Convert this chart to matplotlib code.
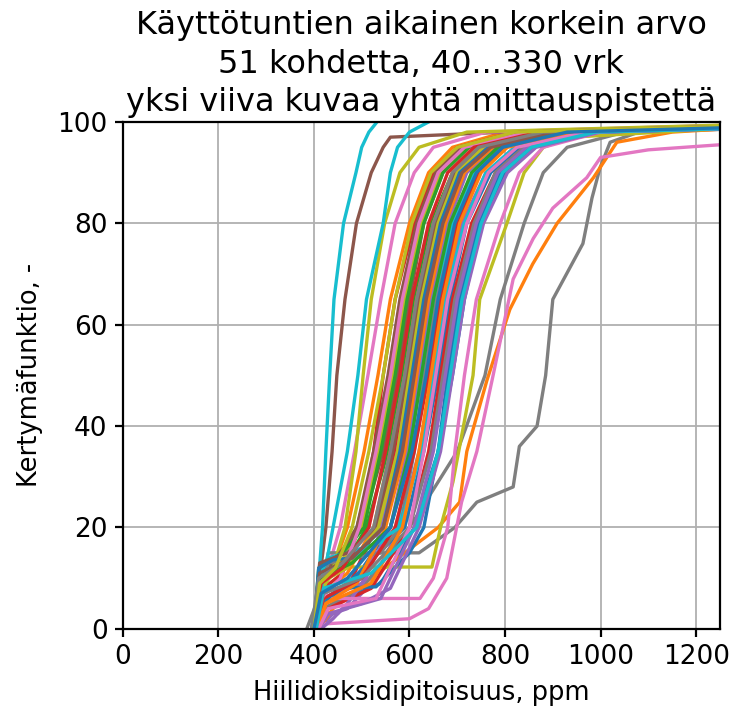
import numpy as np
import matplotlib
matplotlib.use("Agg")
import matplotlib.pyplot as plt

# each curve: (ppm, cumulative %) points
c00 = [(405, 0), (420, 6), (480, 9), (560, 20), (605, 35), (640, 50), (665, 65), (700, 80), (745, 90), (790, 95), (900, 98), (1700, 100)]
c01 = [(400, 0), (412, 7), (440, 12), (470, 20), (505, 35), (534, 50), (560, 65), (600, 80), (640, 90), (690, 95), (800, 98), (1600, 100)]
c02 = [(400, 0), (415, 10), (450, 14), (490, 20), (530, 35), (560, 50), (585, 65), (620, 80), (660, 90), (715, 95), (850, 98), (1700, 100)]
c03 = [(405, 0), (420, 8), (460, 11), (495, 20), (525, 35), (545, 50), (570, 65), (610, 80), (650, 90), (700, 95), (820, 98), (1500, 100)]
c04 = [(410, 0), (440, 3), (470, 4), (520, 9), (580, 20), (620, 35), (650, 50), (675, 65), (710, 80), (760, 90), (820, 95), (950, 98), (1800, 100)]
c05 = [(395, 0), (405, 5), (412, 10), (425, 20), (438, 35), (448, 50), (465, 65), (489, 80), (520, 90), (545, 95), (560, 97), (800, 98), (2500, 100)]
c06 = [(400, 0), (410, 8), (430, 12), (455, 20), (485, 35), (513, 50), (540, 65), (570, 80), (610, 90), (650, 95), (760, 98), (1500, 100)]
c07 = [(385, 0), (405, 5), (420, 10), (430, 15), (620, 15), (650, 17), (695, 20), (741, 25), (817, 28), (830, 36), (867, 40), (885, 50),
       (900, 65), (963, 76), (982, 85), (999, 91), (1020, 96), (1080, 98), (1700, 100)]
c08 = [(400, 0), (412, 8), (440, 12), (465, 20), (488, 35), (503, 50), (520, 65), (548, 80), (580, 90), (620, 95), (720, 98), (1500, 100)]
c09 = [(395, 0), (405, 5), (410, 10), (418, 20), (425, 35), (433, 50), (442, 65), (462, 80), (488, 90), (500, 95), (515, 98), (532, 100)]
c10 = [(410, 0), (425, 4), (440, 5), (540, 9), (610, 20), (660, 35), (690, 50), (715, 65), (750, 80), (800, 90), (860, 95), (1000, 98), (1800, 100)]
c11 = [(410, 0), (440, 4), (520, 10), (660, 20), (705, 25), (720, 35), (762, 49), (810, 63), (858, 72), (909, 80), (985, 89), (1034, 96),
       (1150, 98), (1500, 100)]
c12 = [(400, 0), (415, 9), (460, 12), (510, 20), (555, 35), (585, 50), (610, 65), (645, 80), (690, 90), (750, 95), (880, 98), (1700, 100)]
c13 = [(405, 0), (420, 5), (480, 10), (530, 20), (570, 35), (600, 50), (625, 65), (660, 80), (700, 90), (760, 95), (900, 98), (1600, 100)]
c14 = [(410, 0), (425, 6), (500, 9), (560, 20), (595, 35), (620, 50), (645, 65), (680, 80), (720, 90), (780, 95), (920, 98), (1800, 100)]
c15 = [(400, 0), (410, 10), (445, 14), (500, 20), (545, 35), (575, 50), (600, 65), (630, 80), (670, 90), (720, 95), (850, 98), (1600, 100)]
c16 = [(415, 0), (425, 1), (600, 2), (640, 4), (678, 10), (709, 25), (741, 35), (775, 50), (817, 69), (859, 77), (900, 83), (971, 89),
       (1000, 93), (1100, 94.5), (1250, 95.5)]
c17 = [(405, 0), (420, 4), (500, 8), (600, 20), (700, 35), (758, 50), (790, 65), (840, 80), (880, 90), (930, 95), (1050, 98), (1600, 100)]
c18 = [(400, 0), (420, 8), (440, 12.2), (647, 12.2), (665, 20), (691, 29), (733, 50), (747, 65), (804, 80), (840, 90), (880, 95), (940, 97),
       (1500, 100)]
c19 = [(400, 0), (410, 6), (420, 10), (440, 20), (470, 35), (492, 50), (510, 65), (545, 80), (560, 90), (575, 95), (600, 98), (640, 100)]
c20 = [(400, 0), (415, 5), (460, 8), (590, 20), (630, 35), (660, 50), (685, 65), (720, 80), (770, 90), (830, 95), (960, 98), (1700, 100)]
c21 = [(405, 0), (420, 7), (470, 11), (525, 20), (560, 35), (590, 50), (615, 65), (650, 80), (690, 90), (740, 95), (870, 98), (1600, 100)]
c22 = [(400, 0), (410, 9), (470, 13), (545, 20), (585, 35), (610, 50), (635, 65), (670, 80), (710, 90), (770, 95), (900, 98), (1700, 100)]
c23 = [(410, 0), (430, 4), (520, 8), (600, 20), (640, 35), (665, 50), (690, 65), (730, 80), (780, 90), (840, 95), (980, 98), (1800, 100)]
c24 = [(400, 0), (420, 3), (450, 3), (470, 5), (510, 10), (540, 20), (575, 35), (600, 50), (625, 65), (660, 80), (705, 90), (765, 95),
       (900, 98), (1700, 100)]
c25 = [(400, 0), (410, 11), (450, 14), (490, 20), (525, 35), (555, 50), (580, 65), (615, 80), (655, 90), (710, 95), (830, 98), (1600, 100)]
c26 = [(410, 0), (427, 6), (622, 6), (650, 10), (680, 20), (695, 35), (715, 50), (740, 65), (790, 80), (830, 90), (880, 95), (1000, 98),
       (1700, 100)]
c27 = [(395, 0), (410, 5), (430, 13), (540, 15), (580, 20), (610, 35), (630, 50), (655, 65), (690, 80), (735, 90), (790, 95), (930, 98),
       (1700, 100)]
c28 = [(405, 0), (415, 8), (450, 12), (500, 20), (535, 35), (565, 50), (590, 65), (625, 80), (665, 90), (720, 95), (850, 98), (1600, 100)]
c29 = [(400, 0), (410, 10), (430, 14), (540, 17), (575, 20), (600, 35), (625, 50), (650, 65), (690, 80), (735, 90), (790, 95), (920, 98),
       (1700, 100)]
c30 = [(405, 0), (420, 5), (450, 8), (530, 8.3), (600, 15), (630, 20), (660, 35), (680, 50), (705, 65), (745, 80), (790, 90), (850, 95),
       (990, 98), (1800, 100)]
c31 = [(410, 0), (425, 5), (490, 9), (550, 20), (590, 35), (615, 50), (640, 65), (675, 80), (715, 90), (775, 95), (910, 98), (1700, 100)]
c32 = [(400, 0), (410, 12), (460, 15), (505, 20), (540, 35), (570, 50), (595, 65), (630, 80), (670, 90), (725, 95), (860, 98), (1600, 100)]
c33 = [(405, 0), (420, 6), (500, 10), (570, 20), (610, 35), (640, 50), (665, 65), (700, 80), (745, 90), (800, 95), (940, 98), (1700, 100)]
c34 = [(415, 0), (440, 2), (460, 4), (500, 5), (560, 8), (620, 20), (665, 35), (690, 50), (715, 65), (755, 80), (805, 90), (865, 95),
       (1000, 98), (1800, 100)]
c35 = [(400, 0), (412, 13), (470, 15), (530, 20), (565, 35), (595, 50), (620, 65), (655, 80), (695, 90), (750, 95), (880, 98), (1600, 100)]
c36 = [(400, 0), (415, 6), (455, 10), (495, 20), (530, 35), (560, 50), (585, 65), (620, 80), (660, 90), (715, 95), (850, 98), (1600, 100)]
c37 = [(405, 0), (420, 7), (500, 10), (600, 20), (645, 35), (670, 50), (695, 65), (735, 80), (780, 90), (840, 95), (980, 98), (1700, 100)]
c38 = [(400, 0), (410, 9), (470, 12), (535, 20), (575, 35), (600, 50), (625, 65), (660, 80), (700, 90), (755, 95), (890, 98), (1600, 100)]
c39 = [(405, 0), (420, 11), (480, 14), (580, 20), (625, 35), (650, 50), (675, 65), (715, 80), (760, 90), (820, 95), (960, 98), (1700, 100)]
c40 = [(400, 0), (410, 12), (440, 13.6), (480, 14), (545, 20), (580, 35), (605, 50), (630, 65), (665, 80), (705, 90), (765, 95), (900, 98),
       (1700, 100)]
c41 = [(405, 0), (425, 5), (520, 9), (585, 20), (620, 35), (645, 50), (670, 65), (705, 80), (750, 90), (805, 95), (950, 98), (1700, 100)]
c42 = [(400, 0), (412, 10), (480, 13), (560, 20), (600, 35), (625, 50), (650, 65), (685, 80), (730, 90), (785, 95), (920, 98), (1700, 100)]
c43 = [(400, 0), (415, 9), (460, 12), (515, 20), (550, 35), (580, 50), (605, 65), (640, 80), (680, 90), (735, 95), (870, 98), (1600, 100)]
c44 = [(410, 0), (430, 3), (540, 6), (610, 20), (650, 35), (675, 50), (700, 65), (740, 80), (785, 90), (845, 95), (985, 98), (1800, 100)]
c45 = [(400, 0), (412, 11), (480, 14), (545, 20), (585, 35), (610, 50), (635, 65), (670, 80), (710, 90), (770, 95), (900, 98), (1600, 100)]
c46 = [(410, 0), (430, 4), (530, 6), (600, 20), (630, 35), (655, 50), (680, 65), (720, 80), (765, 90), (825, 95), (970, 98), (1700, 100)]
c47 = [(395, 0), (410, 10), (460, 13), (525, 20), (560, 35), (590, 50), (615, 65), (650, 80), (690, 90), (745, 95), (880, 98), (1600, 100)]
c48 = [(400, 0), (412, 9), (445, 12), (480, 20), (515, 35), (545, 50), (570, 65), (605, 80), (645, 90), (700, 95), (820, 98), (1600, 100)]
c49 = [(405, 0), (420, 8), (520, 11), (615, 20), (660, 35), (685, 50), (710, 65), (750, 80), (795, 90), (855, 95), (990, 98), (1800, 100)]
c50 = [(400, 0), (415, 7), (470, 10), (560, 20), (605, 35), (635, 50), (660, 65), (695, 80), (740, 90), (795, 95), (930, 98), (1700, 100)]

curves = [c00, c01, c02, c03, c04, c05, c06, c07, c08, c09, c10, c11, c12, c13, c14, c15, c16, c17, c18, c19,
          c20, c21, c22, c23, c24, c25, c26, c27, c28, c29, c30, c31, c32, c33, c34, c35, c36, c37, c38, c39,
          c40, c41, c42, c43, c44, c45, c46, c47, c48, c49, c50]

title = "Käyttötuntien aikainen korkein arvo\n51 kohdetta, 40...330 vrk\nyksi viiva kuvaa yhtä mittauspistettä"

fig = plt.figure(figsize=(7.31, 7.09), dpi=100)
ax = fig.add_axes([0.168, 0.113, 0.817, 0.715])

for c in curves:
    pts = np.array(c)
    ax.plot(pts[:, 0], pts[:, 1], lw=2.4)

ax.set_xlim(0, 1250)
ax.set_ylim(0, 100)
ax.set_xticks([0, 200, 400, 600, 800, 1000, 1200])
ax.set_yticks([0, 20, 40, 60, 80, 100])
ax.grid(True, color="#b0b0b0", lw=1.3)
ax.set_axisbelow(True)
for s in ax.spines.values():
    s.set_linewidth(1.6)
ax.tick_params(labelsize=19, length=6, width=1.6, pad=5)
ax.set_xlabel("Hiilidioksidipitoisuus, ppm", fontsize=18.5, labelpad=7)
ax.set_ylabel("Kertymäfunktio, -", fontsize=18.5, labelpad=10)
ax.set_title(title, fontsize=23, linespacing=1.3, pad=8)

fig.savefig("out.png", dpi=100)
